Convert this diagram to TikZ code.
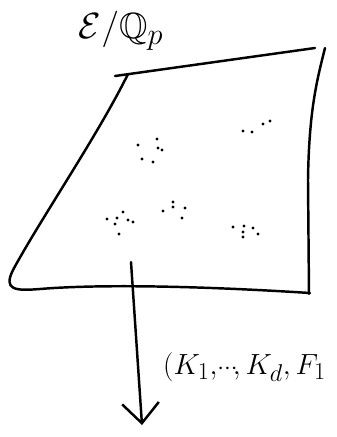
\documentclass[tikz,border=0pt]{standalone}
\usepackage{amssymb}
\usetikzlibrary{arrows.meta}

\begin{document}
\begin{tikzpicture}[x=0.03cm, y=-0.03cm, line width=2.1pt, line cap=round, line join=round,
  speck/.style={fill=black}]
\useasboundingbox (0,0) rectangle (337,437);
% title
\node (title) at (121,31) {\scalebox{1.25}{\Huge $\mathcal{E}/\mathbb{Q}_p$}};
% the sheet
\draw (115,76) -- (315,48);
\draw (128,74) .. controls (98,135) and (40,220) .. (13,270)
  .. controls (3,290) and (15,291) .. (40,289)
  .. controls (100,284) and (200,286) .. (310,293);
\draw (325,48) .. controls (317,80) and (309,110) .. (308,180) -- (309,294);
% points on the sheet
\foreach \p in {(138,145),(157,139),(162,150),(158,148),(142,159),(153,162),
  (243,131),(252,132),(263,124),(270,121),
  (107,219),(117,218),(123,212),(128,220),(133,222),(119,234),(115,224),
  (163,211),(173,202),(173,207),(185,208),(182,218),
  (233,227),(244,226),(243,232),(243,237),(253,228),(258,234)}
  \fill[speck] \p circle (1.3pt);
% the map down
\coordinate (top) at (131,262);
\coordinate (tip) at (142,425);
\draw[-{Straight Barb[length=6mm, width=11mm]}] (top) -- (tip);
\node[anchor=west, inner sep=0pt] (coords) at (162,367)
  {\scalebox{1.0}{\Huge $(K_1,\!{\scriptstyle\cdots}\!,K_d,F_1$}};
\end{tikzpicture}
\end{document}
